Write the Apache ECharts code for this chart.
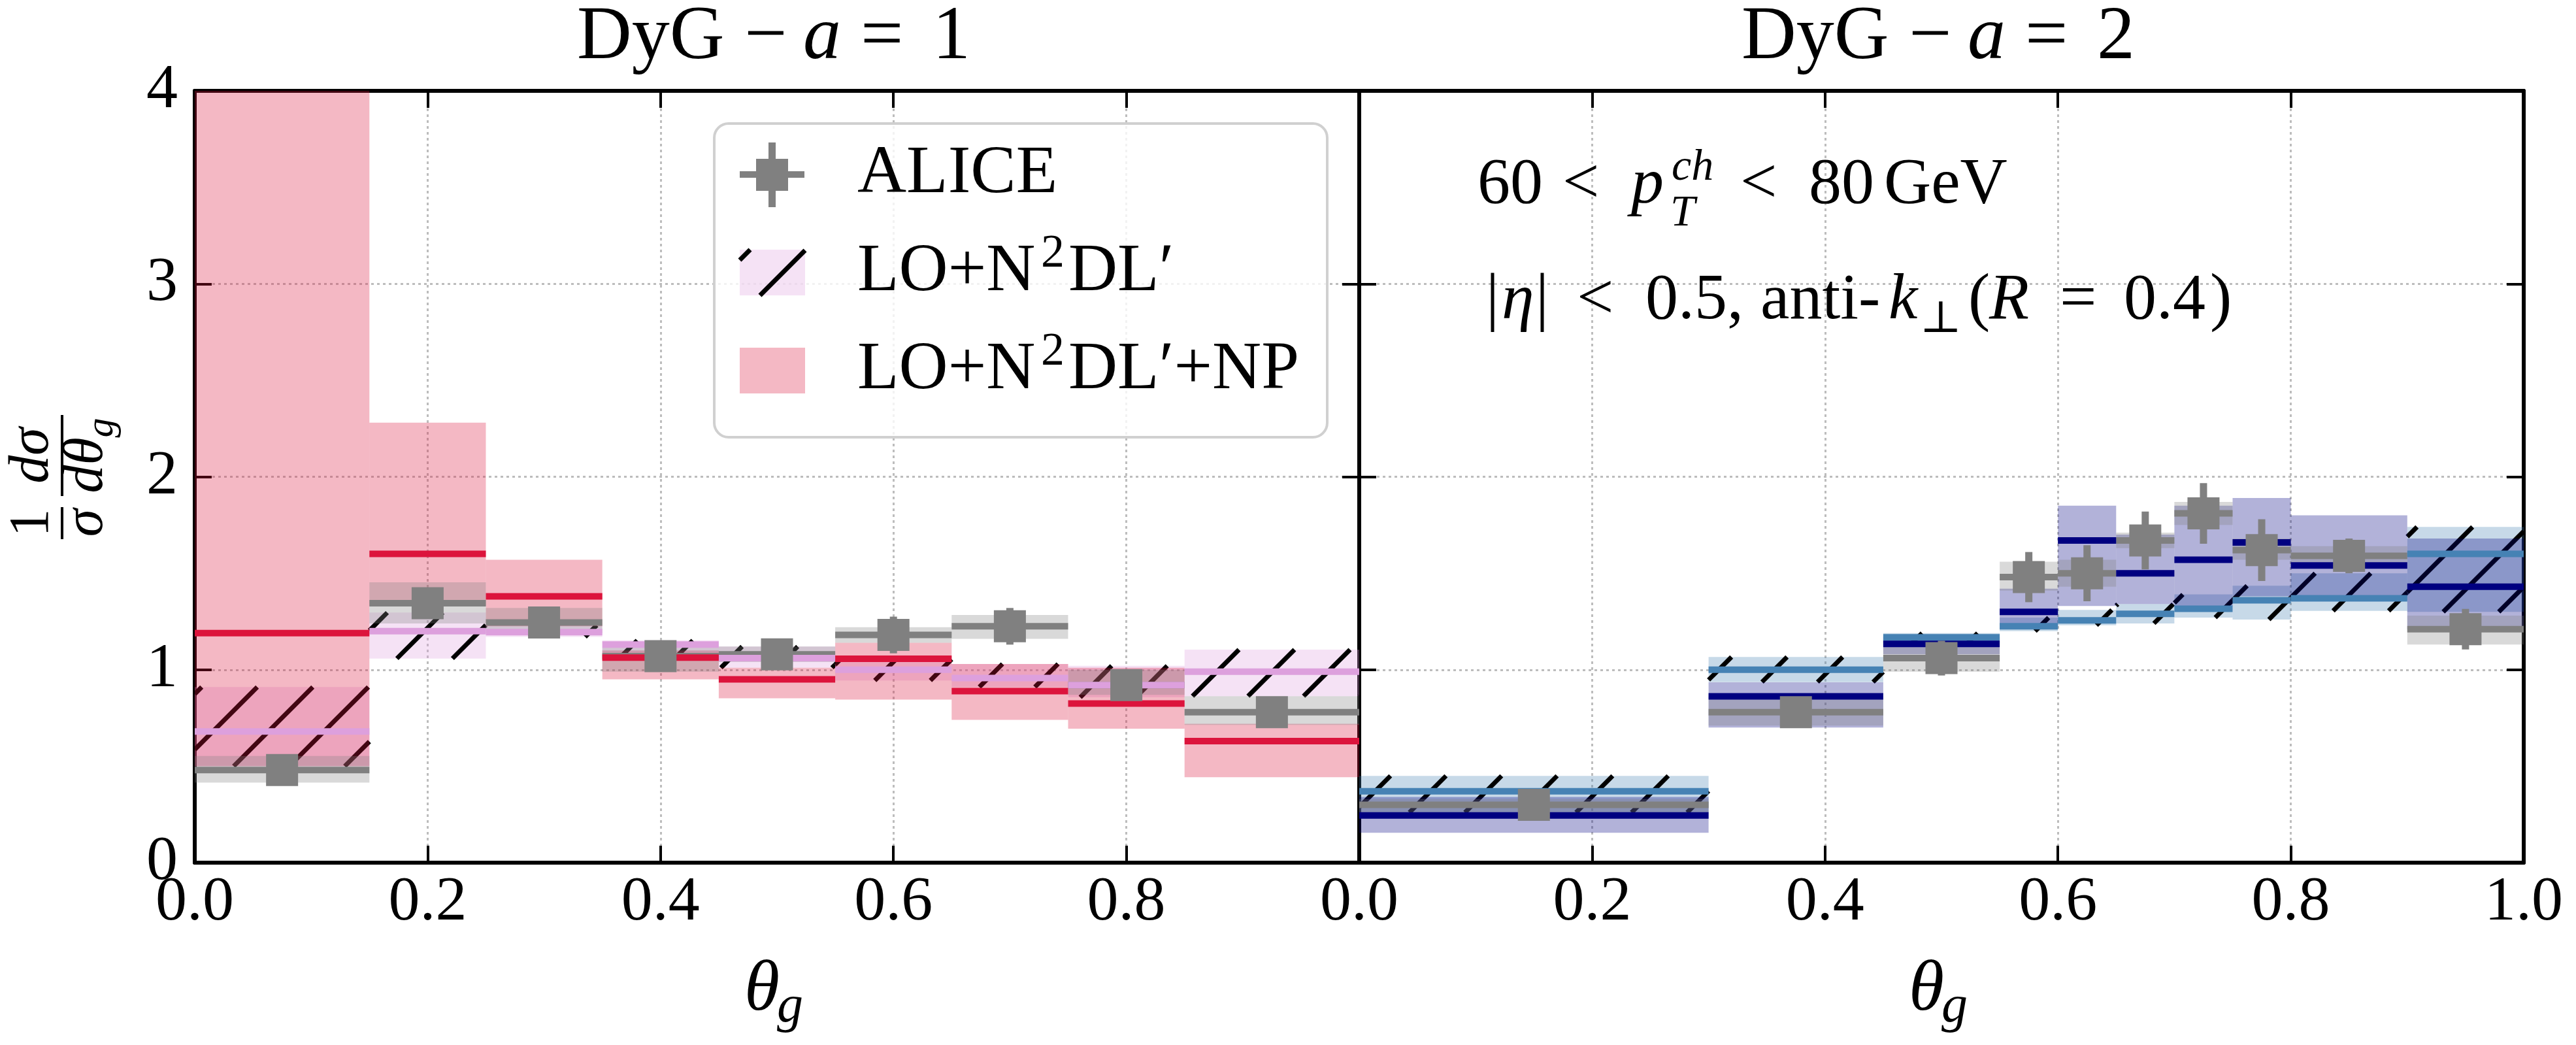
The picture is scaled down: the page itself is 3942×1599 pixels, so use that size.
<!DOCTYPE html>
<html><head><meta charset="utf-8">
<script src="https://cdn.jsdelivr.net/npm/echarts@6/dist/echarts.min.js"></script>
<style>html,body{margin:0;padding:0;background:#fff}#c{width:3942px;height:1599px}</style>
</head><body><div id="c"></div><script>
// ================= DATA =================
// Panel a = 1
const a1Edges = [0, 0.15, 0.25, 0.35, 0.45, 0.55, 0.65, 0.75, 0.85, 1.0];
const a1Alice = [0.48, 1.345, 1.245, 1.07, 1.08, 1.18, 1.225, 0.92, 0.78];
const a1AliceErr = [0.04, 0.06, 0.06, 0.05, 0.07, 0.095, 0.095, 0.07, 0.08];
const a1AliceSysLo = [0.415, 1.24, 1.19, 0.99, 1.04, 1.14, 1.16, 0.87, 0.714];
const a1AliceSysHi = [0.553, 1.453, 1.32, 1.115, 1.12, 1.22, 1.284, 1.0, 0.863];
const a1LO = [0.68, 1.20, 1.195, 1.13, 1.06, 1.0, 0.957, 0.92, 0.99];
const a1LOLo = [0.50, 1.058, 1.17, 1.06, 1.01, 0.944, 0.91, 0.857, 0.863];
const a1LOHi = [0.91, 1.296, 1.23, 1.152, 1.12, 1.065, 1.03, 1.02, 1.104];
const a1NP = [1.19, 1.60, 1.38, 1.063, 0.95, 1.057, 0.889, 0.825, 0.63];
const a1NPLo = [0.50, 1.33, 1.225, 0.95, 0.852, 0.845, 0.74, 0.694, 0.443];
const a1NPHi = [4.6, 2.28, 1.57, 1.10, 1.01, 1.14, 1.03, 1.01, 0.72];
// Panel a = 2
const a2Edges = [0, 0.3, 0.45, 0.55, 0.6, 0.65, 0.7, 0.75, 0.8, 0.9, 1.0];
const a2Alice = [0.30, 0.78, 1.06, 1.48, 1.50, 1.67, 1.81, 1.62, 1.59, 1.21];
const a2AliceErr = [0.04, 0.06, 0.09, 0.13, 0.145, 0.15, 0.157, 0.16, 0.09, 0.105];
const a2AliceSysLo = [0.26, 0.71, 0.99, 1.41, 1.43, 1.63, 1.75, 1.57, 1.55, 1.13];
const a2AliceSysHi = [0.33, 0.86, 1.15, 1.56, 1.57, 1.71, 1.87, 1.68, 1.64, 1.28];
const a2LO = [0.37, 1.0, 1.168, 1.225, 1.256, 1.29, 1.316, 1.36, 1.37, 1.60];
const a2LOLo = [0.26, 0.936, 1.14, 1.20, 1.23, 1.24, 1.27, 1.26, 1.305, 1.30];
const a2LOHi = [0.45, 1.066, 1.19, 1.27, 1.31, 1.34, 1.39, 1.435, 1.50, 1.74];
const a2NP = [0.245, 0.862, 1.134, 1.30, 1.67, 1.50, 1.57, 1.66, 1.54, 1.43];
const a2NPLo = [0.155, 0.70, 1.08, 1.21, 1.33, 1.34, 1.33, 1.38, 1.36, 1.21];
const a2NPHi = [0.34, 0.935, 1.17, 1.42, 1.85, 1.70, 1.85, 1.89, 1.80, 1.68];
// Axes
const xTicks = [0, 0.2, 0.4, 0.6, 0.8, 1.0];
const yTicks = [0, 1, 2, 3, 4];
const panelTitles = ['1', '2'];
const legendLabels = ['ALICE', 'LO+N2DL′', 'LO+N2DL′+NP'];

// ================= LAYOUT / STYLE =================
const FF = '"Liberation Serif", "DejaVu Serif", serif';
const GT = 139, GH = 1181, GW = 1782, GL = [298, 2080];
const GRAY = '#808080', GRAYB = 'rgba(128,128,128,0.3)';
const COLORS = [
  {np: '#DC143C', npB: 'rgba(220,20,60,0.3)', lo: '#DDA0DD', loB: 'rgba(221,160,221,0.3)'},
  {np: '#000080', npB: 'rgba(0,0,128,0.3)', lo: '#4682B4', loB: 'rgba(70,130,180,0.3)'}
];
const HATCH = 85;

function clipRect(params, api, x0, x1, lo, hi) {
  const a = api.coord([x0, hi]), b = api.coord([x1, lo]);
  const cs = params.coordSys;
  const L = Math.max(a[0], cs.x), R = Math.min(b[0], cs.x + cs.width);
  const T = Math.max(a[1], cs.y), B = Math.min(b[1], cs.y + cs.height);
  if (R <= L || B <= T) return null;
  return {x: L, y: T, width: R - L, height: B - T};
}
function hatchLines(r, lw, z) {
  const out = [];
  const cmin = r.x + r.y, cmax = r.x + r.width + r.y + r.height;
  for (let c = Math.ceil(cmin / HATCH) * HATCH; c <= cmax; c += HATCH) {
    const xa = Math.max(r.x, c - (r.y + r.height));
    const xb = Math.min(r.x + r.width, c - r.y);
    if (xb > xa) {
      const l = {type: 'line', shape: {x1: xa, y1: c - xa, x2: xb, y2: c - xb},
        style: {stroke: '#000', lineWidth: lw || 7}};
      if (z !== undefined) l.z = z;
      out.push(l);
    }
  }
  return out;
}
function bandSeries(p, edges, lo, hi, fill, hatch) {
  return {type: 'custom', xAxisIndex: p * 2, yAxisIndex: p * 2, z: 2,
    data: lo.map((v, i) => [edges[i], edges[i + 1], v, hi[i]]),
    renderItem: (params, api) => {
      const r = clipRect(params, api, api.value(0), api.value(1), api.value(2), api.value(3));
      if (!r) return null;
      const ch = [{type: 'rect', shape: r, style: {fill: fill}}];
      if (hatch) hatchLines(r, 7).forEach(l => ch.push(l));
      return {type: 'group', children: ch};
    }};
}
function lineSeries(p, edges, vals, color, z) {
  return {type: 'custom', xAxisIndex: p * 2, yAxisIndex: p * 2, z: z,
    data: vals.map((v, i) => [edges[i], edges[i + 1], v]),
    renderItem: (params, api) => {
      const a = api.coord([api.value(0), api.value(2)]), b = api.coord([api.value(1), api.value(2)]);
      return {type: 'line', shape: {x1: a[0], y1: a[1], x2: b[0], y2: b[1]}, style: {stroke: color, lineWidth: 10}};
    }};
}
function markerSeries(p, edges, vals, errs) {
  return {type: 'custom', xAxisIndex: p * 2, yAxisIndex: p * 2, z: 5,
    data: vals.map((v, i) => [(edges[i] + edges[i + 1]) / 2, v, errs[i]]),
    renderItem: (params, api) => {
      const x = api.value(0), y = api.value(1), e = api.value(2);
      const c = api.coord([x, y]), t = api.coord([x, y + e]), b = api.coord([x, y - e]);
      return {type: 'group', children: [
        {type: 'line', shape: {x1: c[0], y1: t[1], x2: c[0], y2: b[1]}, style: {stroke: GRAY, lineWidth: 11}},
        {type: 'rect', shape: {x: c[0] - 24.5, y: c[1] - 24.5, width: 49, height: 49}, style: {fill: GRAY}}
      ]};
    }};
}
function panelSeries(p, edges, al, alErr, sLo, sHi, lo, loLo, loHi, np, npLo, npHi) {
  const C = COLORS[p];
  return [
    bandSeries(p, edges, loLo, loHi, C.loB, true),
    bandSeries(p, edges, npLo, npHi, C.npB, false),
    bandSeries(p, edges, sLo, sHi, GRAYB, false),
    lineSeries(p, edges, al, GRAY, 3),
    lineSeries(p, edges, lo, C.lo, 4),
    lineSeries(p, edges, np, C.np, 4),
    markerSeries(p, edges, al, alErr)
  ];
}

// ---------- text helpers ----------
const mctx = document.createElement('canvas').getContext('2d');
function tw(t, f, it) { mctx.font = (it ? 'italic ' : '') + f + 'px ' + FF; return mctx.measureText(t).width; }
function txt(t, x, yb, f, it, z) {
  return {type: 'text', x: x, y: yb - 0.34 * f, z: z || 100,
    style: {text: t, fontSize: f, fontFamily: FF, fontStyle: it ? 'italic' : 'normal', fill: '#000',
      align: 'left', verticalAlign: 'middle', textAlign: 'left', textVerticalAlign: 'middle'}};
}
function place(pieces, ox, yb) {
  return pieces.map(p => txt(p.t, ox + p.x, yb + (p.dy || 0), p.f, p.it));
}
function run(pieces, x, yb, anchor) {
  let total = 0;
  pieces.forEach(p => { total += (p.gap || 0) + tw(p.t, p.f, p.it); });
  let cx = anchor === 'center' ? x - total / 2 : x;
  const out = [];
  pieces.forEach(p => { cx += p.gap || 0; out.push(txt(p.t, cx, yb + (p.dy || 0), p.f, p.it)); cx += tw(p.t, p.f, p.it); });
  return out;
}

// ---------- axes ----------
const gridLine = {show: true, lineStyle: {color: '#bdbdbd', width: 3, type: [4, 5]}};
function xAx(g, pos, labels, hideOne) {
  return {type: 'value', gridIndex: g, position: pos, min: xTicks[0], max: xTicks[xTicks.length - 1], interval: 0.2,
    axisLine: {onZero: false, lineStyle: {color: '#000', width: 6}},
    axisTick: {inside: true, length: 26, lineStyle: {color: '#000', width: 4}},
    axisLabel: {show: labels, fontSize: 96, fontFamily: FF, color: '#000', margin: 14,
      formatter: v => (hideOne && Math.abs(v - 1) < 1e-9) ? '' : v.toFixed(1)},
    splitLine: pos === 'bottom' ? gridLine : {show: false}};
}
function yAx(g, pos, labels) {
  return {type: 'value', gridIndex: g, position: pos, min: yTicks[0], max: yTicks[yTicks.length - 1], interval: 1,
    axisLine: {onZero: false, lineStyle: {color: '#000', width: 6}},
    axisTick: {inside: true, length: 26, lineStyle: {color: '#000', width: 4}},
    axisLabel: {show: labels, fontSize: 96, fontFamily: FF, color: '#000', margin: 26, formatter: v => String(v)},
    splitLine: pos === 'left' ? gridLine : {show: false}};
}

// ---------- graphics: titles, legend, annotations, axis names ----------
const G = [];
[0, 1].forEach(p => {
  const cx = GL[p] + GW / 2;
  place([{t: 'DyG', f: 116, x: -306}, {t: '−', f: 116, x: -50}, {t: 'a', f: 116, it: true, x: 40},
         {t: '=', f: 116, x: 128}, {t: panelTitles[p], f: 116, x: 238}], cx, 98).forEach(e => G.push(e));
  place([{t: 'θ', f: 110, it: true, x: -50}, {t: 'g', f: 80, it: true, x: 0, dy: 16}], cx, 1553).forEach(e => G.push(e));
});
// legend box
G.push({type: 'rect', z: 90, shape: {x: 1093, y: 189, width: 938, height: 480, r: 22},
  style: {fill: 'rgba(255,255,255,0.8)', stroke: '#d0d0d0', lineWidth: 4}});
// ALICE icon
G.push({type: 'line', z: 95, shape: {x1: 1132, y1: 267, x2: 1231, y2: 267}, style: {stroke: GRAY, lineWidth: 10}});
G.push({type: 'line', z: 95, shape: {x1: 1181.5, y1: 218, x2: 1181.5, y2: 317}, style: {stroke: GRAY, lineWidth: 11}});
G.push({type: 'rect', z: 96, shape: {x: 1157, y: 243, width: 49, height: 49}, style: {fill: GRAY}});
// hatched icon
const hr = {x: 1132, y: 382, width: 100, height: 70};
G.push({type: 'rect', z: 95, shape: hr, style: {fill: COLORS[0].loB}});
hatchLines(hr, 7, 96).forEach(l => G.push(l));
// NP icon
G.push({type: 'rect', z: 95, shape: {x: 1132, y: 532, width: 100, height: 70}, style: {fill: COLORS[0].npB}});
place([{t: legendLabels[0], f: 104, x: 0}], 1312, 302).forEach(e => G.push(e));
place([{t: 'LO+N', f: 104, x: 0}, {t: '2', f: 72, x: 281, dy: -38}, {t: 'DL′', f: 104, x: 323}], 1312, 452).forEach(e => G.push(e));
place([{t: 'LO+N', f: 104, x: 0}, {t: '2', f: 72, x: 281, dy: -38}, {t: 'DL′+NP', f: 104, x: 323}], 1312, 602).forEach(e => G.push(e));
// annotations
place([{t: '60', f: 100, x: 0}, {t: '<', f: 100, x: 130}, {t: 'p', f: 100, it: true, x: 235},
       {t: 'ch', f: 68, it: true, x: 297, dy: -38}, {t: 'T', f: 68, it: true, x: 295, dy: 32},
       {t: '<', f: 100, x: 402}, {t: '80', f: 100, x: 507}, {t: 'GeV', f: 100, x: 622}], 2261, 318).forEach(e => G.push(e));
place([{t: '|', f: 100, x: 0}, {t: 'η', f: 100, it: true, x: 24}, {t: '|', f: 100, x: 76}, {t: '<', f: 100, x: 139},
       {t: '0.5,', f: 100, x: 244}, {t: 'anti-', f: 100, x: 420}, {t: 'k', f: 100, it: true, x: 616},
       {t: '⊥', f: 68, x: 664, dy: 18}, {t: '(', f: 100, x: 738}, {t: 'R', f: 100, it: true, x: 770},
       {t: '=', f: 100, x: 878}, {t: '0.4', f: 100, x: 976}, {t: ')', f: 100, x: 1108}], 2274, 495).forEach(e => G.push(e));
// y-axis label (rotated fraction)
const yl = [];
run([{t: '1', f: 86}], -70, -15, 'center').forEach(e => yl.push(e));
run([{t: 'σ', f: 86, it: true}], -70, 68, 'center').forEach(e => yl.push(e));
yl.push({type: 'rect', z: 100, shape: {x: -95, y: -2, width: 49, height: 4}, style: {fill: '#000'}});
run([{t: 'dσ', f: 86, it: true}], 33, -15, 'center').forEach(e => yl.push(e));
run([{t: 'dθ', f: 86, it: true}, {t: 'g', f: 60, it: true, dy: 14}], 33, 68, 'center').forEach(e => yl.push(e));
yl.push({type: 'rect', z: 100, shape: {x: -29, y: -2, width: 124, height: 4}, style: {fill: '#000'}});
G.push({type: 'group', x: 95, y: 730, rotation: Math.PI / 2, z: 100, children: yl});

const option = {
  animation: false,
  backgroundColor: '#fff',
  grid: [
    {left: GL[0], top: GT, width: GW, height: GH},
    {left: GL[1], top: GT, width: GW, height: GH}
  ],
  xAxis: [xAx(0, 'bottom', true, true), xAx(0, 'top', false), xAx(1, 'bottom', true, false), xAx(1, 'top', false)],
  yAxis: [yAx(0, 'left', true), yAx(0, 'right', false), yAx(1, 'left', false), yAx(1, 'right', false)],
  series: [].concat(
    panelSeries(0, a1Edges, a1Alice, a1AliceErr, a1AliceSysLo, a1AliceSysHi, a1LO, a1LOLo, a1LOHi, a1NP, a1NPLo, a1NPHi),
    panelSeries(1, a2Edges, a2Alice, a2AliceErr, a2AliceSysLo, a2AliceSysHi, a2LO, a2LOLo, a2LOHi, a2NP, a2NPLo, a2NPHi)
  ),
  graphic: {elements: G}
};
const chart = echarts.init(document.getElementById('c'), null, {renderer: 'canvas', width: 3942, height: 1599});
chart.setOption(option);
</script></body></html>
